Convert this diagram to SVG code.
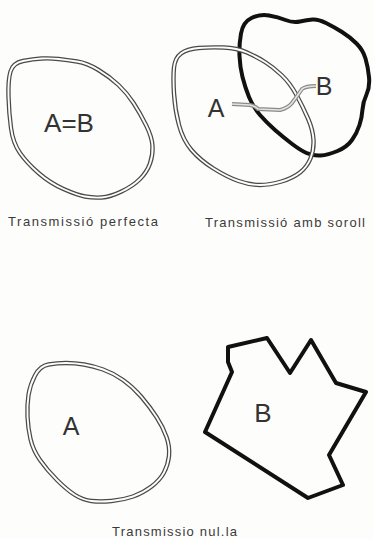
<svg xmlns="http://www.w3.org/2000/svg" xmlns:xlink="http://www.w3.org/1999/xlink" width="373" height="539" viewBox="0 0 373 539">
<style>
.bg{fill:#fdfdfb}
.dbo{fill:none;stroke:#4a4a4a;stroke-width:4.4;stroke-linejoin:round}
.dbi{fill:none;stroke:#fdfdfb;stroke-width:1.9;stroke-linejoin:round}
.thick{fill:none;stroke:#111;stroke-width:4;stroke-linejoin:round}
.nzo{fill:none;stroke:#8a8a8a;stroke-width:4;stroke-linecap:butt;stroke-linejoin:round}
.nzi{fill:none;stroke:#e4e4e4;stroke-width:1.6;stroke-linejoin:round}
.big{font-family:"Liberation Sans",Arial,sans-serif;font-size:25px;fill:#333;text-anchor:middle}
.cap{font-family:"Liberation Sans",Arial,sans-serif;font-size:13px;fill:#3a3a3a}
</style>
<defs>
<path id="blob1" d="M10.5,71.5 Q13,63 23,61 Q33,59 41.5,58.5 Q50,58 58.5,59 Q67,60 77,61.5 Q87,63 98.5,70 Q110,77 118.5,85 Q127,93 133.5,103 Q140,113 146,125 Q152,137 152.5,146 Q153,155 150,163.5 Q147,172 140,179 Q133,186 121.5,191.5 Q110,197 101.5,197.5 Q93,198 85,196.5 Q77,195 63.5,189 Q50,183 38.5,173 Q27,163 20,153 Q13,143 11,128 Q9,113 8.5,96.5 Q8,80 10.5,71.5 Z"/>
<path id="blob2" d="M174,67.5 Q175,58 181,53.5 Q187,49 198.5,48 Q210,47 223.5,47.5 Q237,48 247,52.5 Q257,57 265,62 Q273,67 281.5,75 Q290,83 296.5,95 Q303,107 308,118.5 Q313,130 313.5,140 Q314,150 310.5,158.5 Q307,167 300,172.5 Q293,178 281.5,181.5 Q270,185 260,185 Q250,185 238.5,181 Q227,177 213.5,168.5 Q200,160 191.5,150 Q183,140 179,125 Q175,110 174,93.5 Q173,77 174,67.5 Z"/>
<path id="blob3" d="M28.5,395 Q30,385 35,375.5 Q40,366 48.5,364.5 Q57,363 66,363 Q75,363 84,364.5 Q93,366 103,369.5 Q113,373 123,380 Q133,387 141.5,397 Q150,407 156.5,417 Q163,427 166.5,437 Q170,447 169,456 Q168,465 164,472.5 Q160,480 151.5,486.5 Q143,493 133,496.5 Q123,500 111.5,501 Q100,502 91.5,501 Q83,500 75,495 Q67,490 57,480 Q47,470 40,460 Q33,450 30.5,439 Q28,428 27.5,416.5 Q27,405 28.5,395 Z"/>
<path id="noise" d="M232,104 L250,105 Q255,106 258,109 L280,110 Q288,108 292,103 Q298,95 302,89 Q306,86 316,86"/>
</defs>
<rect class="bg" x="0" y="0" width="373" height="539"/>

<g id="perfect-A">
<use xlink:href="#blob1" class="dbo"/>
<use xlink:href="#blob1" class="dbi"/>
<text class="big" x="69" y="132" style="font-size:26px">A=B</text>
</g>

<g id="noise-B">
<path class="thick" d="M241,33.5 Q243,22 251.5,18 Q260,14 269,15.5 Q278,17 285.5,20 Q293,23 300,21.5 Q307,20 312.5,19.5 Q318,19 326,23 Q334,27 342,32 Q350,37 356.5,43.5 Q363,50 365.5,58.5 Q368,67 369,77 Q370,87 366.5,94.5 Q363,102 362.5,109.5 Q362,117 359.5,125 Q357,133 352,140 Q347,147 337.5,151 Q328,155 320.5,155.5 Q313,156 306.5,153 Q300,150 291.5,143.5 Q283,137 275,130 Q267,123 260,115 Q253,107 249,97 Q245,87 242.5,77 Q240,67 239.5,56 Q239,45 241,33.5 Z"/>
<text class="big" x="324" y="95">B</text>
</g>

<g id="noise-A">
<use xlink:href="#blob2" class="dbo"/>
<use xlink:href="#blob2" class="dbi"/>
<text class="big" x="216" y="117">A</text>
</g>

<g id="connectors">
<use xlink:href="#noise" class="nzo"/>
<use xlink:href="#noise" class="nzi"/>
</g>

<g id="null-A">
<use xlink:href="#blob3" class="dbo"/>
<use xlink:href="#blob3" class="dbi"/>
<text class="big" x="71" y="435">A</text>
</g>

<g id="null-B">
<polygon class="thick" points="228,347 267,338 290,373 311,340 336,383 366,392 329,455 343,485 308,498 205,432 232,372 228,362"/>
<text class="big" x="263" y="422" style="font-size:26px">B</text>
</g>

<g id="captions">
<text class="cap" x="8" y="226" textLength="150" lengthAdjust="spacing">Transmissió perfecta</text>
<text class="cap" x="205" y="227" textLength="160" lengthAdjust="spacing">Transmissió amb soroll</text>
<text class="cap" x="112" y="536" textLength="125" lengthAdjust="spacing">Transmissio nul.la</text>
</g>
</svg>
